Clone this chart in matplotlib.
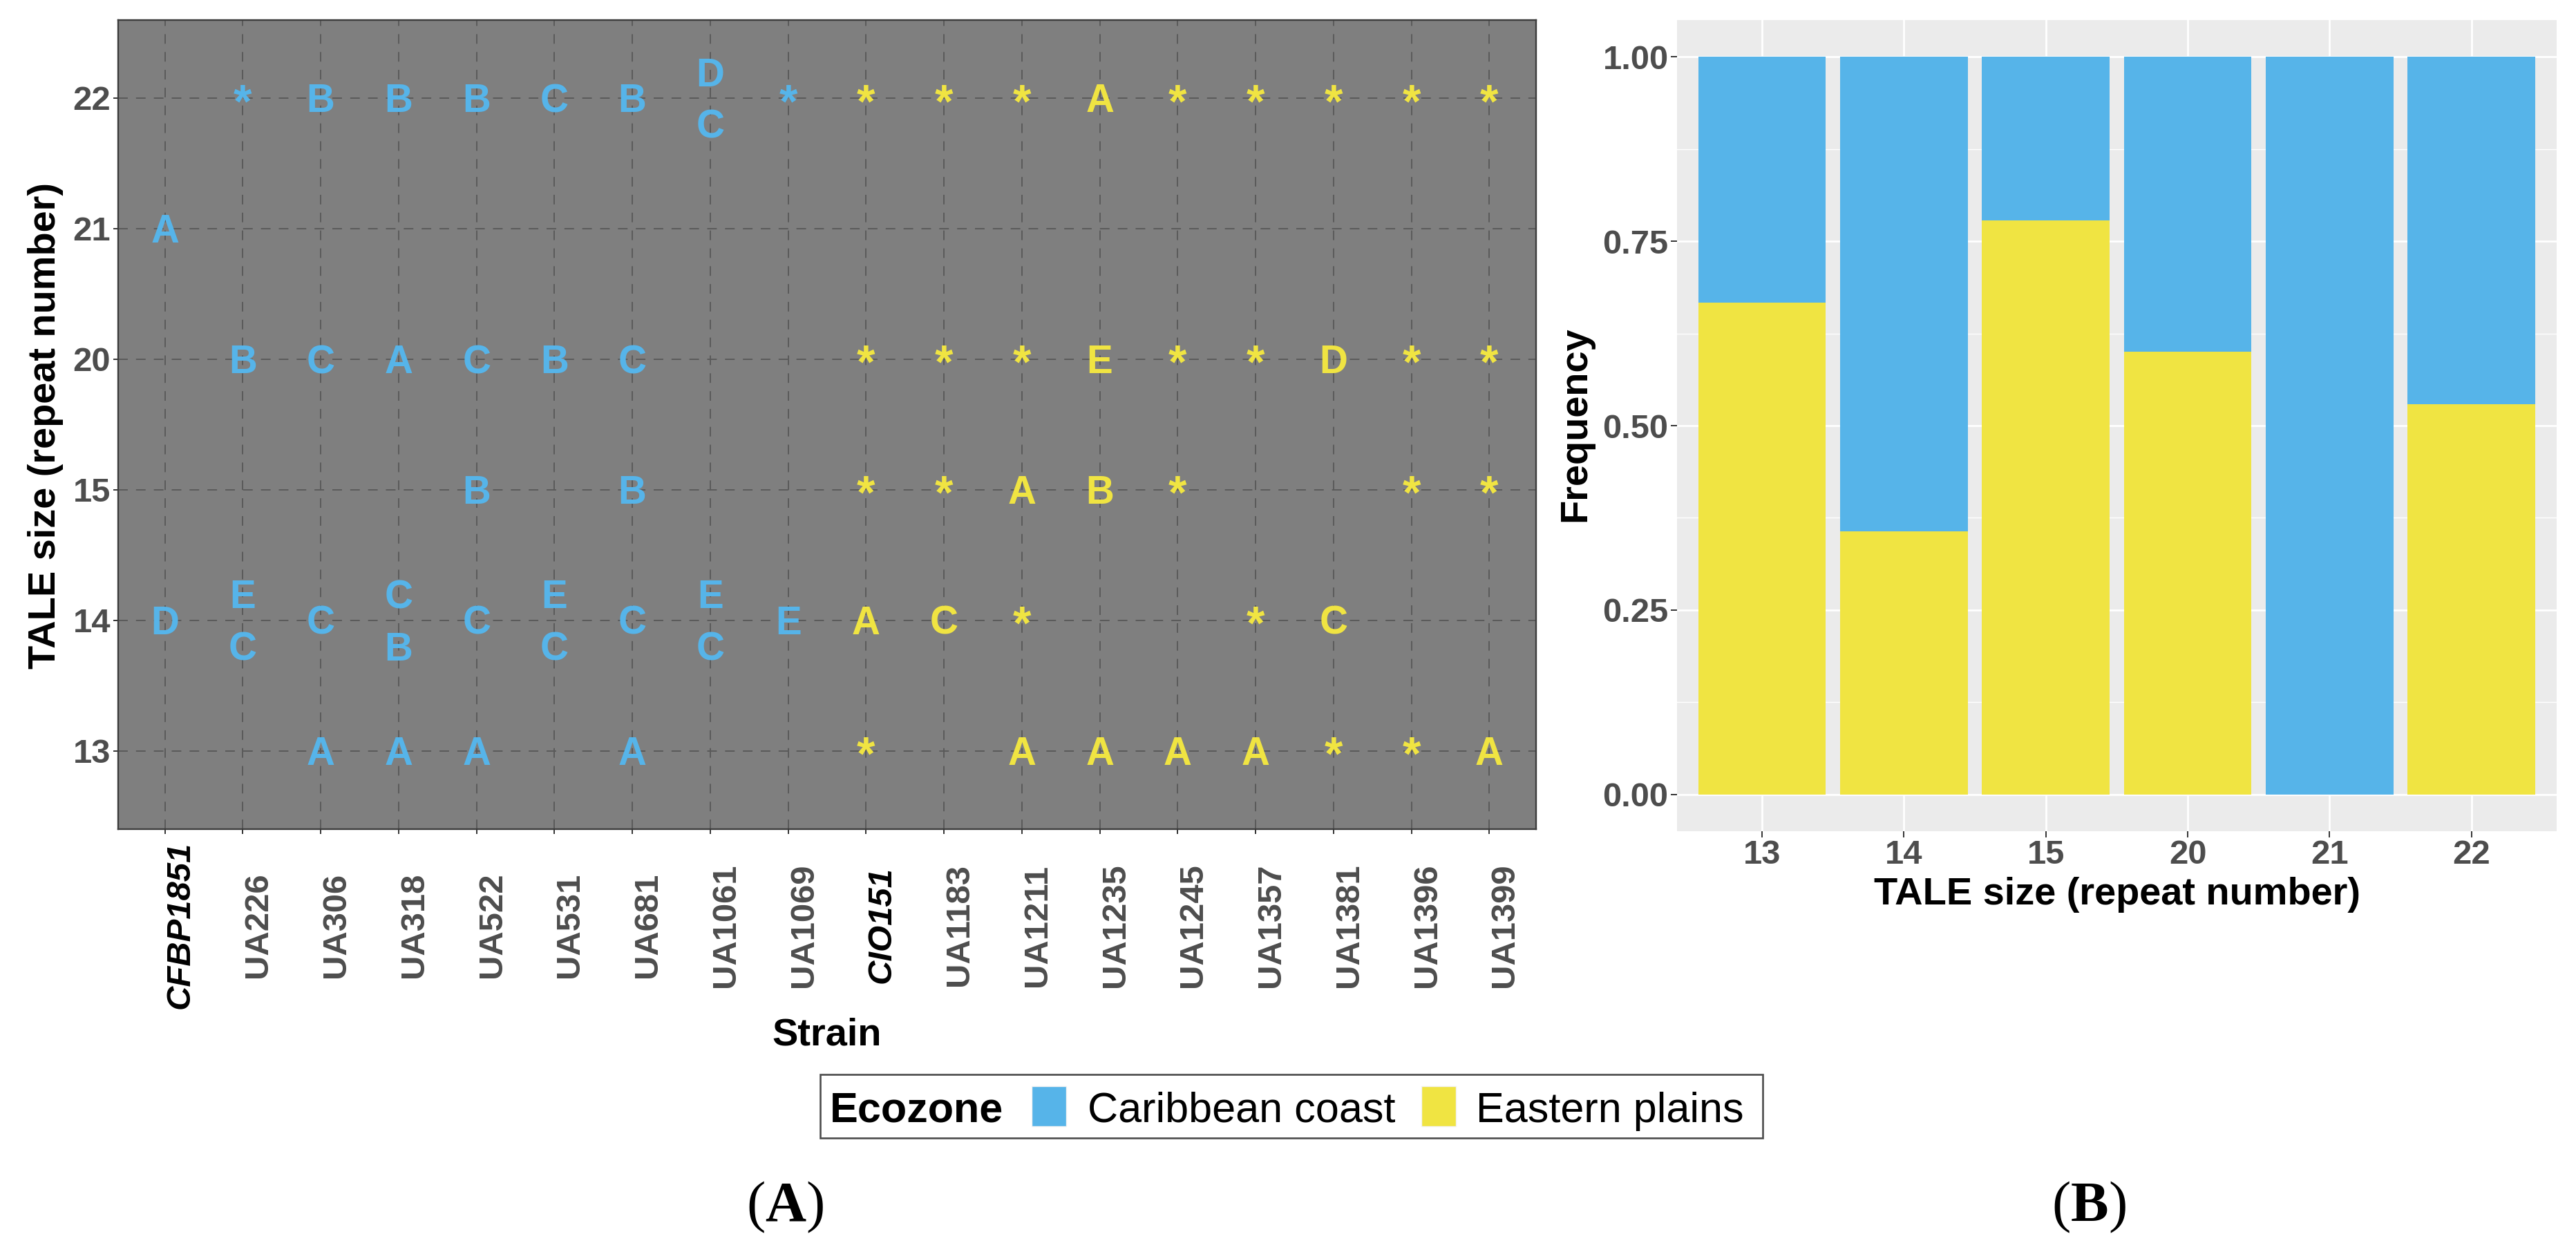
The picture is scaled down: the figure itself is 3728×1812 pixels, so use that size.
import matplotlib
matplotlib.use('Agg')
import matplotlib.pyplot as plt
import matplotlib.transforms as mtransforms
from matplotlib.patches import Rectangle
from matplotlib.ticker import MultipleLocator

plt.rcParams['font.family'] = ['Liberation Sans', 'DejaVu Sans']
plt.rcParams['mathtext.fontset'] = 'custom'
plt.rcParams['mathtext.rm'] = 'Liberation Serif'
plt.rcParams['mathtext.bf'] = 'Liberation Serif:bold'
plt.rcParams['lines.scale_dashes'] = False

# ---------------- data ----------------
strains = ['CFBP1851', 'UA226', 'UA306', 'UA318', 'UA522', 'UA531', 'UA681',
           'UA1061', 'UA1069', 'CIO151', 'UA1183', 'UA1211', 'UA1235',
           'UA1245', 'UA1357', 'UA1381', 'UA1396', 'UA1399']
strain_ecozone = ['Caribbean coast', 'Caribbean coast', 'Caribbean coast',
                  'Caribbean coast', 'Caribbean coast', 'Caribbean coast',
                  'Caribbean coast', 'Caribbean coast', 'Caribbean coast',
                  'Eastern plains', 'Eastern plains', 'Eastern plains',
                  'Eastern plains', 'Eastern plains', 'Eastern plains',
                  'Eastern plains', 'Eastern plains', 'Eastern plains']
italic_strains = ['CFBP1851', 'CIO151']

tale_sizes = ['13', '14', '15', '20', '21', '22']

# TALE variant labels per strain for each TALE size ('' = none, 'X/Y' = two variants)
row_13 = ['', '', 'A', 'A', 'A', '', 'A', '', '', '*', '', 'A', 'A', 'A', 'A', '*', '*', 'A']
row_14 = ['D', 'E/C', 'C', 'C/B', 'C', 'E/C', 'C', 'E/C', 'E', 'A', 'C', '*', '', '', '*', 'C', '', '']
row_15 = ['', '', '', '', 'B', '', 'B', '', '', '*', '*', 'A', 'B', '*', '', '', '*', '*']
row_20 = ['', 'B', 'C', 'A', 'C', 'B', 'C', '', '', '*', '*', '*', 'E', '*', '*', 'D', '*', '*']
row_21 = ['A', '', '', '', '', '', '', '', '', '', '', '', '', '', '', '', '', '']
row_22 = ['', '*', 'B', 'B', 'B', 'C', 'B', 'D/C', '*', '*', '*', '*', 'A', '*', '*', '*', '*', '*']
tale_rows = [row_13, row_14, row_15, row_20, row_21, row_22]

# Panel B frequencies
freq_eastern = [0.667, 0.357, 0.778, 0.600, 0.0, 0.529]
freq_caribbean = [0.333, 0.643, 0.222, 0.400, 1.0, 0.471]

ecozones = ['Caribbean coast', 'Eastern plains']
eco_colors = {'Caribbean coast': '#56B4E9', 'Eastern plains': '#F0E442'}

# ---------------- figure ----------------
W, H, DPI = 3728, 1812, 100
fig = plt.figure(figsize=(W / DPI, H / DPI), dpi=DPI)
fig.patch.set_facecolor('white')


def px_box(l, t, r, b):
    return [l / W, 1 - b / H, (r - l) / W, (b - t) / H]


GREY30 = '#4D4D4D'
TICK_FS = 35.3
TITLE_FS = 40.3
LET_FS = 40.75

# ---------------- Panel A ----------------
axA = fig.add_axes(px_box(171, 28.5, 2223, 1200))
axA.set_facecolor('#7F7F7F')
axA.set_xlim(-0.6, len(strains) - 0.4)
axA.set_ylim(-0.6, len(tale_sizes) - 0.4)
axA.set_axisbelow(True)
axA.grid(True, color='#5A5A5A', linestyle=(0, (10, 8.6)), linewidth=1.4)
for sp in axA.spines.values():
    sp.set_color('#3C3C3C')
    sp.set_linewidth(1.7)

axA.set_xticks(range(len(strains)))
axA.set_xticklabels(strains, rotation=90, ha='left', va='center',
                    fontsize=TICK_FS, fontweight='bold', color=GREY30)
axA.set_yticks(range(len(tale_sizes)))
axA.set_yticklabels(tale_sizes, fontsize=TICK_FS, fontweight='bold', color=GREY30)
axA.tick_params(axis='x', length=5, width=1.4, color='#333333', pad=95.1)
axA.tick_params(axis='y', length=5, width=1.4, color='#333333', pad=2.9)
for lab in axA.get_xticklabels():
    if lab.get_text() in italic_strains:
        lab.set_fontstyle('italic')
        lab.set_color('black')

axA.set_xlabel('Strain', fontsize=TITLE_FS, fontweight='bold', color='black')
axA.xaxis.set_label_coords(0.5, -0.2322)
axA.set_ylabel('TALE size (repeat number)', fontsize=TITLE_FS, fontweight='bold', color='black')
axA.yaxis.set_label_coords(-0.0385, 0.4985)

STACK_PT = 27.1
for j, row in enumerate(tale_rows):
    for i, lab in enumerate(row):
        if not lab:
            continue
        parts = lab.split('/')
        offs = [0.0] if len(parts) == 1 else [STACK_PT, -STACK_PT]
        col = eco_colors[strain_ecozone[i]]
        for p, o in zip(parts, offs):
            if p == '*':
                fs, base = LET_FS * 1.2, -19.5
            else:
                fs, base = LET_FS, -14.6
            tr = axA.transData + mtransforms.ScaledTranslation(0, (o + base) / 72, fig.dpi_scale_trans)
            axA.text(i, j, p, transform=tr, ha='center', va='baseline',
                     fontsize=fs, fontweight='bold', color=col)

# ---------------- Panel B ----------------
axB = fig.add_axes(px_box(2426.7, 29, 3700, 1203))
axB.set_facecolor('#EBEBEB')
xb = list(range(len(tale_sizes)))
axB.bar(xb, freq_eastern, width=0.9, color=eco_colors['Eastern plains'], zorder=3)
axB.bar(xb, freq_caribbean, bottom=freq_eastern, width=0.9,
        color=eco_colors['Caribbean coast'], zorder=3)
axB.set_xlim(-0.6, len(tale_sizes) - 0.4)
axB.set_ylim(-0.05, 1.05)
axB.set_xticks(xb)
axB.set_xticklabels(tale_sizes, fontsize=TICK_FS, fontweight='bold', color=GREY30)
axB.set_yticks([0, 0.25, 0.5, 0.75, 1.0])
axB.set_yticklabels(['0.00', '0.25', '0.50', '0.75', '1.00'],
                    fontsize=TICK_FS, fontweight='bold', color=GREY30)
axB.yaxis.set_minor_locator(MultipleLocator(0.125))
axB.set_axisbelow(True)
axB.grid(True, which='major', color='white', linewidth=2.0)
axB.grid(True, which='minor', axis='y', color='white', linewidth=1.0)
axB.tick_params(axis='both', which='major', length=6.5, width=1.4, color='#333333')
axB.tick_params(axis='x', pad=2.2)
axB.tick_params(axis='y', pad=2.2)
axB.tick_params(axis='y', which='minor', length=0)
for sp in axB.spines.values():
    sp.set_visible(False)
axB.set_xlabel('TALE size (repeat number)', fontsize=TITLE_FS, fontweight='bold', color='black')
axB.xaxis.set_label_coords(0.5005, -0.0558)
axB.set_ylabel('Frequency', fontsize=TITLE_FS, fontweight='bold', color='black')
axB.yaxis.set_label_coords(-0.0948, 0.5017)

# ---------------- shared legend ----------------
def fx(x):
    return x / W


def fy(y):
    return 1 - y / H


fig.add_artist(Rectangle((fx(1187), fy(1647)), (2551 - 1187) / W, (1647 - 1555) / H,
                         transform=fig.transFigure, facecolor='white',
                         edgecolor='#4D4D4D', linewidth=1.9))
LEG_FS = 44.0
fig.text(fx(1201), fy(1623.6), 'Ecozone', fontsize=LEG_FS, fontweight='bold',
         ha='left', va='baseline', color='black')
key_left = [1492.6, 2057]
text_left = [1574, 2136]
for eco, kl, tl in zip(ecozones, key_left, text_left):
    fig.add_artist(Rectangle((fx(kl), fy(1630)), 50 / W, 58 / H,
                             transform=fig.transFigure, facecolor=eco_colors[eco],
                             edgecolor='#F2F2F2', linewidth=1.0))
    fig.text(fx(tl), fy(1623.6), eco, fontsize=LEG_FS, ha='left', va='baseline', color='black')

# ---------------- panel captions ----------------
fig.text(fx(1136.5), fy(1767), r'$\mathrm{(}\mathbf{A}\mathrm{)}$', fontsize=59,
         ha='center', va='baseline', color='black')
fig.text(fx(3023), fy(1767), r'$\mathrm{(}\mathbf{B}\mathrm{)}$', fontsize=59,
         ha='center', va='baseline', color='black')

fig.savefig('out.png', dpi=DPI, facecolor='white')
